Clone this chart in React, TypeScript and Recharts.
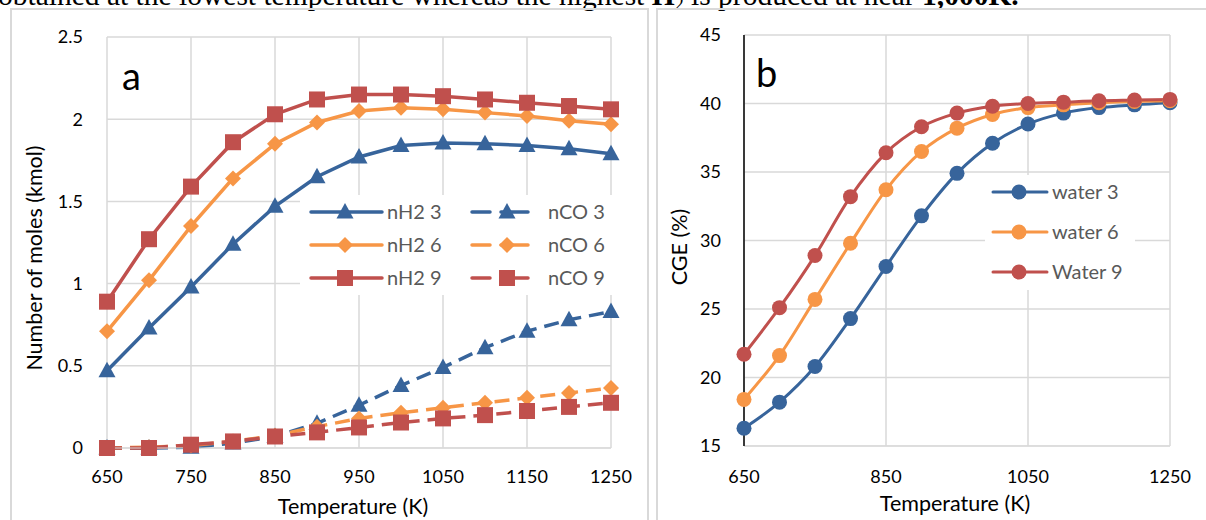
import React from "react";
import { LineChart, Line, XAxis, YAxis, CartesianGrid } from "recharts";

// temperatures (K), shared by both panels
const temps = [650, 700, 750, 800, 850, 900, 950, 1000, 1050, 1100, 1150, 1200, 1250];

// panel a: moles (kmol)
const nH2_3 = [0.47, 0.73, 0.98, 1.24, 1.47, 1.65, 1.77, 1.84, 1.855, 1.85, 1.84, 1.82, 1.79];
const nH2_6 = [0.71, 1.02, 1.35, 1.64, 1.85, 1.98, 2.05, 2.07, 2.06, 2.04, 2.02, 1.99, 1.97];
const nH2_9 = [0.89, 1.27, 1.59, 1.86, 2.03, 2.12, 2.15, 2.15, 2.14, 2.12, 2.1, 2.08, 2.06];
const nCO_3 = [0, 0, 0.005, 0.03, 0.07, 0.15, 0.26, 0.38, 0.49, 0.61, 0.71, 0.78, 0.83];
const nCO_6 = [0, 0.005, 0.015, 0.04, 0.075, 0.13, 0.18, 0.215, 0.245, 0.275, 0.305, 0.335, 0.365];
const nCO_9 = [0, 0, 0.02, 0.04, 0.07, 0.095, 0.125, 0.155, 0.18, 0.2, 0.225, 0.25, 0.275];

// panel b: CGE (%)
const water3 = [16.3, 18.2, 20.8, 24.3, 28.1, 31.8, 34.9, 37.1, 38.5, 39.3, 39.7, 39.9, 40.05];
const water6 = [18.4, 21.6, 25.7, 29.8, 33.7, 36.5, 38.2, 39.2, 39.7, 39.9, 40.05, 40.15, 40.2];
const water9 = [21.7, 25.1, 28.9, 33.2, 36.4, 38.3, 39.3, 39.8, 40.0, 40.1, 40.2, 40.25, 40.3];

const tempTicksA = [650, 750, 850, 950, 1050, 1150, 1250];
const molTicks = [0, 0.5, 1, 1.5, 2, 2.5];
const tempTicksB = [650, 850, 1050, 1250];
const cgeTicks = [15, 20, 25, 30, 35, 40, 45];

const BLUE = "#37649b";
const ORANGE = "#f79646";
const RED = "#c0504d";
const GRID = "#d9d9d9";
const FONT = "Lato, 'Open Sans', sans-serif";

const dataA = temps.map((t, i) => ({
  t,
  nH2_3: nH2_3[i], nCO_3: nCO_3[i],
  nH2_6: nH2_6[i], nCO_6: nCO_6[i],
  nH2_9: nH2_9[i], nCO_9: nCO_9[i],
}));
const dataB = temps.map((t, i) => ({ t, w3: water3[i], w6: water6[i], w9: water9[i] }));

type Shape = "tri" | "dia" | "sq" | "circ";

function Marker({ cx, cy, shape, color }: { cx: number; cy: number; shape: Shape; color: string }) {
  if (cx == null || cy == null) return null;
  if (shape === "tri")
    return <path d={`M${cx},${cy - 9} L${cx + 8.5},${cy + 6.5} L${cx - 8.5},${cy + 6.5} Z`} fill={color} />;
  if (shape === "dia")
    return <path d={`M${cx},${cy - 8} L${cx + 8},${cy} L${cx},${cy + 8} L${cx - 8},${cy} Z`} fill={color} />;
  if (shape === "sq") return <rect x={cx - 8} y={cy - 8} width={16} height={16} fill={color} />;
  return <circle cx={cx} cy={cy} r={7.5} fill={color} />;
}

const dot = (shape: Shape, color: string) => (p: any) =>
  <Marker key={`${shape}-${color}-${p.index}`} cx={p.cx} cy={p.cy} shape={shape} color={color} />;

const tickStyle = { fill: "#000", fontSize: 18, fontFamily: FONT };

function LegendA() {
  const rows: [string, string, string, Shape][] = [
    ["nH2 3", "nCO 3", BLUE, "tri"],
    ["nH2 6", "nCO 6", ORANGE, "dia"],
    ["nH2 9", "nCO 9", RED, "sq"],
  ];
  return (
    <svg width={315} height={100} style={{ position: "absolute", left: 300, top: 195, background: "#fff" }}>
      {rows.map(([a, b, c, s], i) => {
        const y = 17 + i * 33;
        return (
          <g key={a}>
            <line x1={11} x2={82} y1={y} y2={y} stroke={c} strokeWidth={3.5} strokeLinecap="round" />
            <Marker cx={45} cy={y} shape={s} color={c} />
            <text x={87} y={y + 7} fontSize={20} fontFamily={FONT} fill="#595959">{a}</text>
            <line x1={172} x2={190} y1={y} y2={y} stroke={c} strokeWidth={3.5} strokeLinecap="round" />
            <line x1={201} x2={228} y1={y} y2={y} stroke={c} strokeWidth={3.5} strokeLinecap="round" />
            <Marker cx={207} cy={y} shape={s} color={c} />
            <text x={248} y={y + 7} fontSize={20} fontFamily={FONT} fill="#595959">{b}</text>
          </g>
        );
      })}
    </svg>
  );
}

function LegendB() {
  const rows: [string, string][] = [
    ["water 3", BLUE],
    ["water 6", ORANGE],
    ["Water 9", RED],
  ];
  return (
    <svg width={150} height={115} style={{ position: "absolute", left: 985, top: 175, background: "#fff" }}>
      {rows.map(([n, c], i) => {
        const y = 17 + i * 40;
        return (
          <g key={n}>
            <line x1={8} x2={62} y1={y} y2={y} stroke={c} strokeWidth={3} strokeLinecap="round" />
            <Marker cx={34} cy={y} shape="circ" color={c} />
            <text x={67} y={y + 7} fontSize={20} fontFamily={FONT} fill="#595959">{n}</text>
          </g>
        );
      })}
    </svg>
  );
}

export default function App() {
  return (
    <div style={{ position: "absolute", left: 0, top: 0, width: 1206, height: 520, overflow: "hidden", background: "#fff" }}>
      <svg width={1206} height={520} style={{ position: "absolute", left: 0, top: 0 }}>
        <text x={-2} y={5} fontSize={29.5} fontFamily="'Liberation Serif', serif" fill="#000">
          obtained at the lowest temperature whereas the highest <tspan fontWeight="bold">H</tspan>
          <tspan fontSize={18} dy={5}>2</tspan>
          <tspan dy={-5}> is produced at near </tspan>
          <tspan fontWeight="bold">1,000K.</tspan>
        </text>
        <rect x={11} y={9} width={637} height={530} fill="none" stroke={GRID} strokeWidth={2} />
        <rect x={657} y={9} width={560} height={530} fill="none" stroke={GRID} strokeWidth={2} />
        <text x={34} y={258} transform="rotate(-90 34 258)" textAnchor="middle" dominantBaseline="central"
          fontSize={21.5} fontFamily={FONT} fill="#000">Number of moles (kmol)</text>
        <text x={353} y={506} textAnchor="middle" dominantBaseline="central" fontSize={21.5} fontFamily={FONT} fill="#000">
          Temperature (K)
        </text>
        <text x={679} y={247} transform="rotate(-90 679 247)" textAnchor="middle" dominantBaseline="central"
          fontSize={21.5} fontFamily={FONT} fill="#000">CGE (%)</text>
        <text x={955} y={503} textAnchor="middle" dominantBaseline="central" fontSize={21.5} fontFamily={FONT} fill="#000">
          Temperature (K)
        </text>
      </svg>

      <div style={{ position: "absolute", left: 0, top: 0 }}>
        <LineChart width={650} height={520} data={dataA} margin={{ top: 37, right: 39, bottom: 42, left: 0 }}>
          <CartesianGrid stroke={GRID} strokeWidth={1.5} />
          <XAxis dataKey="t" type="number" domain={[650, 1250]} ticks={tempTicksA} height={30}
            axisLine={{ stroke: GRID }} tickLine={false} tickSize={0} tickMargin={22} tick={tickStyle} />
          <YAxis type="number" domain={[0, 2.5]} ticks={molTicks} width={107}
            axisLine={false} tickLine={false} tickSize={0} tickMargin={24} tick={tickStyle} />
          <Line dataKey="nH2_3" stroke={BLUE} strokeWidth={3.5} dot={dot("tri", BLUE)} activeDot={false} isAnimationActive={false} />
          <Line dataKey="nCO_3" stroke={BLUE} strokeWidth={3.5} strokeDasharray="15 8" dot={dot("tri", BLUE)} activeDot={false} isAnimationActive={false} />
          <Line dataKey="nH2_6" stroke={ORANGE} strokeWidth={3.5} dot={dot("dia", ORANGE)} activeDot={false} isAnimationActive={false} />
          <Line dataKey="nCO_6" stroke={ORANGE} strokeWidth={3.5} strokeDasharray="15 8" dot={dot("dia", ORANGE)} activeDot={false} isAnimationActive={false} />
          <Line dataKey="nH2_9" stroke={RED} strokeWidth={3.5} dot={dot("sq", RED)} activeDot={false} isAnimationActive={false} />
          <Line dataKey="nCO_9" stroke={RED} strokeWidth={3.5} strokeDasharray="15 8" dot={dot("sq", RED)} activeDot={false} isAnimationActive={false} />
        </LineChart>
      </div>

      <div style={{ position: "absolute", left: 650, top: 0 }}>
        <LineChart width={556} height={520} data={dataB} margin={{ top: 35, right: 36, bottom: 44, left: 0 }}>
          <CartesianGrid stroke={GRID} strokeWidth={1.5} />
          <XAxis dataKey="t" type="number" domain={[650, 1250]} ticks={tempTicksB} height={30}
            axisLine={{ stroke: GRID }} tickLine={false} tickSize={0} tickMargin={24} tick={tickStyle} />
          <YAxis type="number" domain={[15, 45]} ticks={cgeTicks} width={94}
            axisLine={{ stroke: "#000", strokeWidth: 1.5 }} tickLine={false} tickSize={0} tickMargin={23} tick={tickStyle} />
          <Line type="monotone" dataKey="w3" stroke={BLUE} strokeWidth={3} dot={dot("circ", BLUE)} activeDot={false} isAnimationActive={false} />
          <Line type="monotone" dataKey="w6" stroke={ORANGE} strokeWidth={3} dot={dot("circ", ORANGE)} activeDot={false} isAnimationActive={false} />
          <Line type="monotone" dataKey="w9" stroke={RED} strokeWidth={3} dot={dot("circ", RED)} activeDot={false} isAnimationActive={false} />
        </LineChart>
      </div>

      <LegendA />
      <LegendB />

      <svg width={1206} height={120} style={{ position: "absolute", left: 0, top: 0, pointerEvents: "none" }}>
        <text x={122} y={90} fontSize={38} fontFamily={FONT} fill="#000">a</text>
        <text x={756} y={87} fontSize={38} fontFamily={FONT} fill="#000">b</text>
      </svg>
    </div>
  );
}
